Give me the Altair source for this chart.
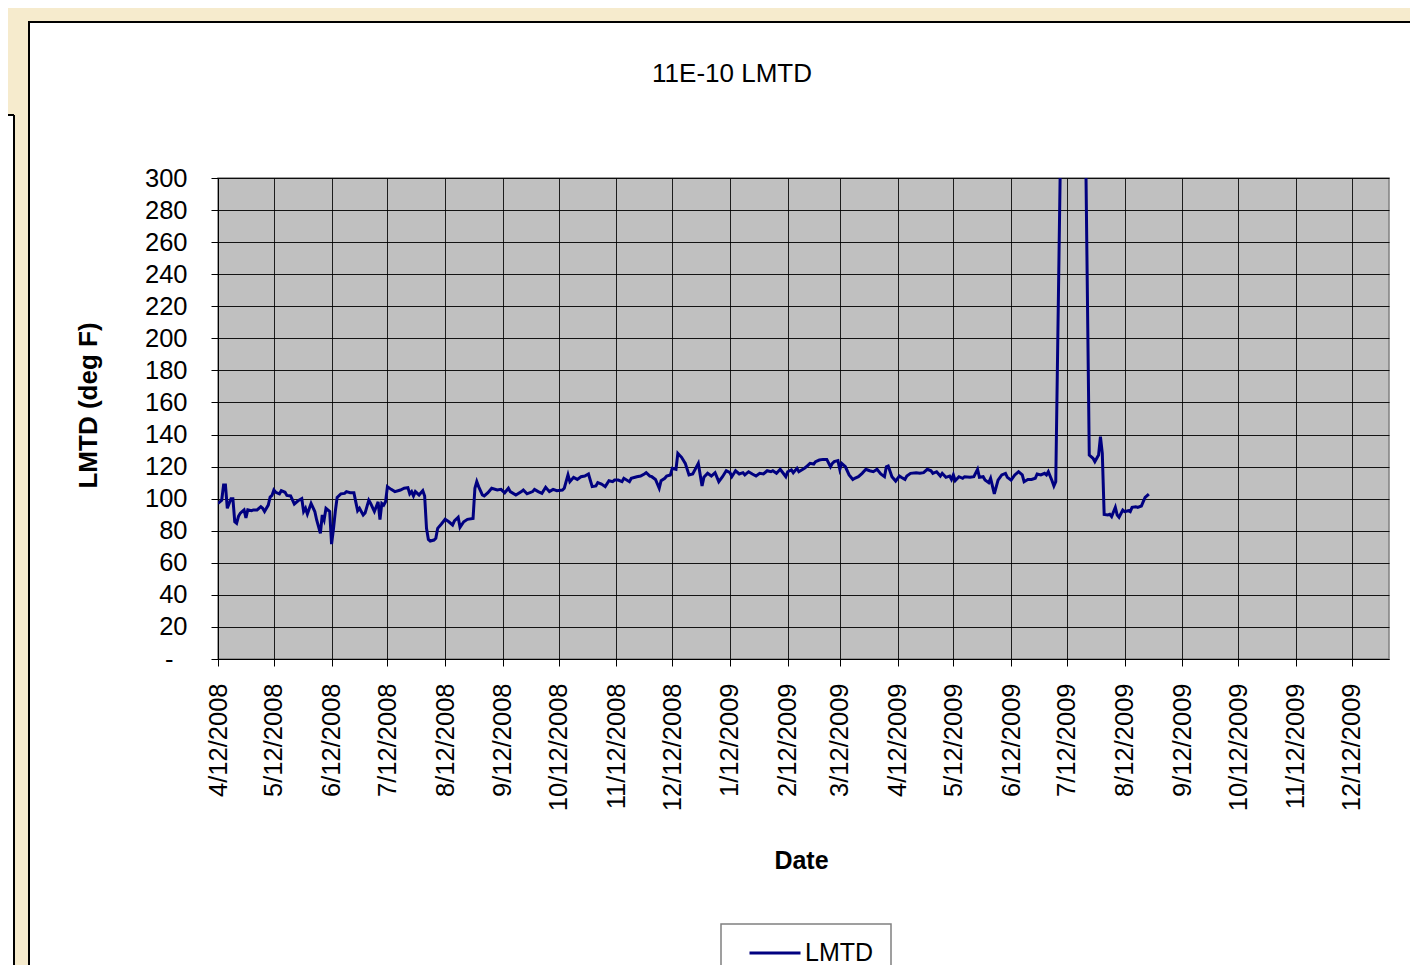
import altair as alt
import pandas as pd

# ---------------- data ----------------
start_date = "2008-04-12"
day_offsets = [
    0, 2, 3, 4, 5, 6, 7, 8, 9, 10, 11, 12, 14, 15, 16, 18, 19, 21, 23, 24, 25, 27, 28, 29, 30, 31,
    33, 34, 36, 37, 39, 41, 43, 45, 46, 47, 48, 50, 52, 53, 55, 56, 57, 58, 60, 61, 62, 63, 64, 66,
    68, 69, 71, 73, 74, 75, 76, 78, 79, 80, 81, 82, 84, 85, 86, 87, 88, 89, 90, 91, 93,
    95, 98, 100, 102, 103, 104, 105, 106, 108, 109, 110, 111, 112, 113, 114, 116, 117, 118, 120,
    122, 124, 126, 127, 129, 130, 132, 134, 137, 138, 139, 140, 142, 143, 145, 147, 150, 152, 154,
    156, 157, 160, 163, 164, 166, 169, 170, 172, 174, 176, 178, 180, 182, 185, 186, 188,
    189, 191, 193, 195, 197, 199, 201, 203, 204, 206, 208, 210, 212, 213, 215, 217, 218, 221, 222,
    225, 227, 229, 230, 232, 233, 235, 237, 238, 240, 241, 243, 244, 246, 247, 249, 251, 253, 255,
    258, 260, 261, 263, 265, 267, 269, 271, 273, 275, 276, 278, 280, 282,
    283, 285, 287, 289, 291, 293, 295, 297, 298, 300, 302, 303, 305, 306, 308, 309, 311, 312, 315,
    316, 318, 320, 321, 323, 325, 327, 329, 330, 331, 333, 334, 335, 337, 339, 341, 342, 344, 346,
    348, 350, 352, 354, 356, 358, 359, 360, 362, 364, 366, 367, 369, 370, 372, 375,
    377, 379, 381, 383, 384, 386, 388, 389, 391, 393, 394, 395, 396, 398, 400, 401, 404, 406, 408,
    409, 411, 412, 414, 415, 417, 419, 421, 423, 424, 426, 428, 430, 432, 433, 435, 437, 439, 440,
    442, 444, 445, 446, 448, 449, 450, 460, 468, 470, 471, 473, 474, 475, 476, 478, 479, 480, 482,
    483, 484, 486, 487, 489, 490, 491, 493, 494, 496, 497, 498, 500,
]
lmtd_values = [
    97, 99, 108.5, 108.5, 94, 97, 100, 100, 85.6, 84.6, 89, 91, 93, 88, 93, 92.5, 93, 93, 95, 94, 92,
    96, 101, 102, 105.4, 104, 103, 105, 104, 102, 101.7, 96.7, 98.7, 100, 92, 94, 90.4, 97, 92, 86.7,
    78.4, 89.8, 86.7, 94, 92, 71.7, 80.9, 92, 100.8, 103, 103.3, 104.4, 103.7, 103.7, 98, 92.5, 94,
    89.8, 91, 95, 99, 97, 92, 95, 98, 87, 97, 96, 98, 107.5, 105.8,
    104.4, 105.4, 106.5, 106.9, 103, 104.4, 101.7, 104.4, 102.3, 103.7, 105, 101.7, 81.5, 74.6, 73.6,
    74.2, 75.3, 81.5, 84.2, 87.1, 85.6, 83.6, 86.2, 88.4, 82.1, 85.6, 87.1, 87.7, 106.5, 110.6, 107.5,
    102.3, 101.7, 103.7, 106.5, 105.4, 105.8, 103.7, 106.5, 104.4, 102.3, 104.4, 105.4, 103, 104.4,
    105.8, 104.4, 103.3, 107.1, 104.4, 105.8, 105, 105.4, 106.5, 114.8,
    110.6, 113.3, 112, 113.7, 114.1, 115.4, 107.5, 107.9, 110, 109.1, 107.5, 111.2, 110.6, 111.6,
    111.6, 110.6, 112.7, 110.6, 112.7, 113.7, 114.1, 115.4, 116.2, 114.1, 113.7, 112, 106.5, 111.2,
    112.7, 114.1, 114.8, 118.9, 118.3, 128.3, 125.8, 122, 114.8, 115.4, 122, 107.9, 113.3, 115.8,
    114.1, 116.2, 110.6, 113.7, 117.4, 116.2, 113.7, 117.4, 115.4, 116.2,
    114.8, 116.8, 115.4, 114.1, 115.8, 115.4, 117.4, 116.8, 117.4, 115.8, 118.3, 116.8, 113.7, 116.8,
    117.9, 116.2, 118.9, 116.8, 118.9, 119.9, 122, 121.6, 123.1, 124.1, 124.5, 124.5, 119.9, 122,
    123.1, 123.7, 118.3, 122, 119.9, 114.8, 112, 112.7, 113.7, 115.8, 118.3, 117.4, 116.8, 118.3,
    115.4, 113.7, 119.9, 120.4, 113.7, 111, 114.1, 113.3, 112, 114.1, 115.8, 116.2,
    115.8, 116.2, 118.3, 117.4, 115.8, 116.8, 114.1, 115.8, 113.3, 114.1, 112, 114.8, 111.2, 113.7,
    112.7, 113.7, 113.3, 113.7, 118.3, 113.3, 113.7, 111.6, 110, 112.7, 103, 111.6, 114.8, 115.8,
    113.3, 111.6, 114.8, 116.8, 114.8, 110.6, 112, 112, 112.7, 115.4, 114.8, 115.8, 114.8, 116.8,
    111.2, 107.9, 110.6, 920, 127.2, 125.2, 123.1, 127.2, 138.7, 128.3, 90.2, 89.8, 90.2, 88.8,
    94.6, 89.8, 88.4, 92.9, 91.9, 92.5, 91.9, 94.6, 95, 94.6, 95.4, 98.1, 100.8, 102.9,
]
series_name = "LMTD"
chart_title = "11E-10 LMTD"
x_title = "Date"
y_title = "LMTD (deg F)"
# month tick dates (year, month, day)
month_ticks = [
    (2008, 4, 12), (2008, 5, 12), (2008, 6, 12), (2008, 7, 12), (2008, 8, 12), (2008, 9, 12),
    (2008, 10, 12), (2008, 11, 12), (2008, 12, 12), (2009, 1, 12), (2009, 2, 12), (2009, 3, 12),
    (2009, 4, 12), (2009, 5, 12), (2009, 6, 12), (2009, 7, 12), (2009, 8, 12), (2009, 9, 12),
    (2009, 10, 12), (2009, 11, 12), (2009, 12, 12),
]
x_domain = [(2008, 4, 12), (2010, 1, 1)]
y_ticks = [0, 20, 40, 60, 80, 100, 120, 140, 160, 180, 200, 220, 240, 260, 280, 300]
y_domain = [0, 300]

# ---------------- build table ----------------
dates = pd.Timestamp(start_date) + pd.to_timedelta(day_offsets, unit="D")
df = pd.DataFrame({"Date": dates, "LMTD": lmtd_values, "series": series_name})
one = pd.DataFrame({"k": [0]})

FONT = "Liberation Sans"
NAVY = "#000080"
CREAM = "#f6ebcd"

tick_dt = [alt.DateTime(year=y, month=m, date=d) for (y, m, d) in month_ticks]
dom_dt = [alt.DateTime(year=y, month=m, date=d) for (y, m, d) in x_domain]

W, H = 1171, 481

line = alt.Chart(df).mark_line(color=NAVY, strokeWidth=3, clip=True).encode(
    x=alt.X(
        "Date:T",
        scale=alt.Scale(domain=dom_dt),
        axis=alt.Axis(
            values=tick_dt, format="%-m/%-d/%Y", labelAngle=270, labelFlush=False,
            labelOverlap=False, labelFontSize=25.5, labelFont=FONT, labelColor="black",
            labelPadding=17, tickSize=7, tickColor="black", domainColor="black",
            grid=True, gridColor="black", gridOpacity=0.85,
            title=x_title, titleFont=FONT, titleFontSize=25, titleFontWeight="bold",
            titleColor="black", titleX=583, titleY=201, titleBaseline="middle",
        ),
    ),
    y=alt.Y(
        "LMTD:Q",
        scale=alt.Scale(domain=y_domain, nice=False, zero=True),
        axis=alt.Axis(
            values=y_ticks, labelExpr="datum.value == 0 ? '-' : datum.label",
            labelFontSize=25.5, labelFont=FONT, labelColor="black",
            labelPadding={"condition": {"test": "datum.value == 0", "value": 38}, "value": 24},
            tickSize=7, tickColor="black", domainColor="black",
            grid=True, gridColor="black", gridOpacity=0.9,
            title=y_title, titleFont=FONT, titleFontSize=26, titleFontWeight="bold",
            titleColor="black", titleX=-130, titleY=227, titleAngle=270, titleBaseline="middle",
        ),
    ),
    color=alt.Color(
        "series:N",
        scale=alt.Scale(domain=[series_name], range=[NAVY]),
        legend=alt.Legend(
            title=None, orient="none", legendX=530, legendY=748, padding=0,
            symbolType="stroke", symbolSize=2601, symbolStrokeWidth=3,
            labelFont=FONT, labelFontSize=25, labelColor="black", labelOffset=3,
        ),
    ),
)

# decorative page background pieces
yellow_top = alt.Chart(one).mark_rect(color=CREAM).encode(
    x=alt.value(-210), x2=alt.value(1200), y=alt.value(-170), y2=alt.value(-156))
yellow_left = alt.Chart(one).mark_rect(color=CREAM).encode(
    x=alt.value(-210), x2=alt.value(-189), y=alt.value(-170), y2=alt.value(800))
left_box = alt.Chart(one).mark_rect(color="white").encode(
    x=alt.value(-212), x2=alt.value(-204), y=alt.value(-63), y2=alt.value(800))
left_box_r = alt.Chart(one).mark_rule(color="black", strokeWidth=2).encode(
    x=alt.value(-204), y=alt.value(-63), y2=alt.value(800))
left_box_t = alt.Chart(one).mark_rule(color="black", strokeWidth=2).encode(
    x=alt.value(-212), x2=alt.value(-204), y=alt.value(-63))
border_t = alt.Chart(one).mark_rule(color="black", strokeWidth=2).encode(
    x=alt.value(-190), x2=alt.value(1200), y=alt.value(-156))
border_l = alt.Chart(one).mark_rule(color="black", strokeWidth=2).encode(
    x=alt.value(-189), y=alt.value(-157), y2=alt.value(800))
legend_box = alt.Chart(one).mark_rect(fill=None, stroke="#808080", strokeWidth=1.5).encode(
    x=alt.value(503), x2=alt.value(673), y=alt.value(746), y2=alt.value(830))
title_txt = alt.Chart(pd.DataFrame({"t": [chart_title]})).mark_text(
    font=FONT, fontSize=26, color="black", align="center", baseline="middle"
).encode(text="t:N", x=alt.value(514), y=alt.value(-104))

chart = alt.layer(
    yellow_top, yellow_left, left_box, left_box_r, left_box_t, border_t, border_l,
    legend_box, line, title_txt,
).properties(
    width=W, height=H,
    padding={"left": 210, "top": 170, "right": 21, "bottom": 306},
    autosize=alt.AutoSizeParams(type="none"),
    background="white",
).configure_view(
    fill="#c0c0c0", stroke="#808080", strokeWidth=1.5,
)

chart.save("out.html", embed_options={"renderer": "svg", "actions": False})
